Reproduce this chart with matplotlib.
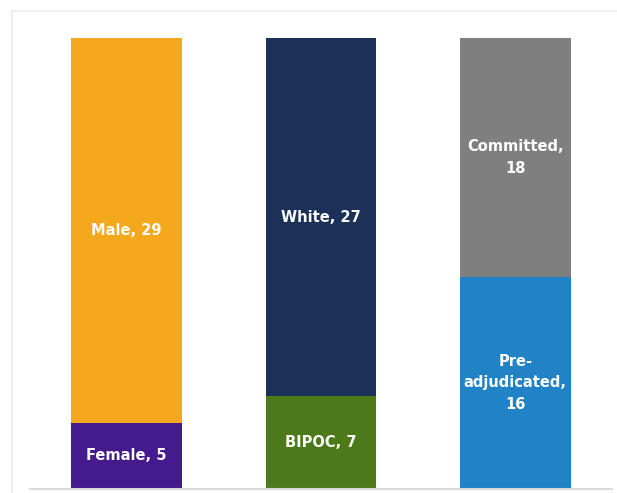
import matplotlib
matplotlib.use("Agg")
import matplotlib.pyplot as plt
from matplotlib.lines import Line2D
import numpy as np

categories = ["Gender", "Race", "Status"]
bottom_labels = ["Female", "BIPOC", "Pre-\nadjudicated"]
bottom_values = [5, 7, 16]
top_labels = ["Male", "White", "Committed"]
top_values = [29, 27, 18]
bottom_colors = ["#441A8C", "#4D7A19", "#2182C5"]
top_colors = ["#F4A81E", "#1B3157", "#7F7F7F"]

W, H = 617, 493
fig = plt.figure(figsize=(W / 100, H / 100), dpi=100)
fig.patch.set_facecolor("white")

# light frame (top and left edges visible)
fx, fy = 12 / W, (H - 11) / H
fig.lines.append(Line2D([fx, 1.0], [fy, fy], transform=fig.transFigure,
                        color="#eeeeee", linewidth=1.5))
fig.lines.append(Line2D([fx, fx], [0.0, fy], transform=fig.transFigure,
                        color="#eeeeee", linewidth=1.5))

ax = fig.add_axes([29.5 / W, (H - 489) / H, 583 / W, 451 / H])
x = np.arange(len(categories))
width = 0.571

ax.bar(x, bottom_values, width, color=bottom_colors, zorder=2)
ax.bar(x, top_values, width, bottom=bottom_values, color=top_colors, zorder=2)

for i in range(len(categories)):
    b = bottom_values[i]
    t = top_values[i]
    blbl = f"{bottom_labels[i]},\n{b}" if "\n" in bottom_labels[i] else f"{bottom_labels[i]}, {b}"
    ax.text(x[i], b / 2, blbl, ha="center", va="center", color="white",
            fontsize=10.5, fontweight="bold", linespacing=1.55, zorder=3)
    tlbl = f"{top_labels[i]},\n{t}" if len(top_labels[i]) > 6 else f"{top_labels[i]}, {t}"
    ax.text(x[i], b + t / 2, tlbl, ha="center", va="center", color="white",
            fontsize=10.5, fontweight="bold", linespacing=1.55, zorder=3)

ax.set_xlim(-0.5, 2.5)
ax.set_ylim(0, 34)
ax.set_xticks([])
ax.set_yticks([])
for s in ["top", "right", "left"]:
    ax.spines[s].set_visible(False)
ax.spines["bottom"].set_color("#d9d9d9")
ax.spines["bottom"].set_linewidth(1.5)
ax.spines["bottom"].set_zorder(4)

fig.savefig("out.png", dpi=100)
